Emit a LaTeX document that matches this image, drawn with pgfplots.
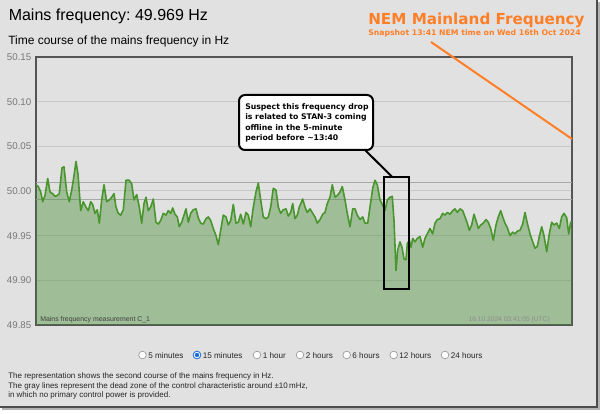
\documentclass[border=0pt]{standalone}
\usepackage{pgfplots}
\pgfplotsset{compat=1.18}
\usepackage{pgfplotstable}
\usepackage{fontspec}
\setmainfont{Liberation Sans}
\newfontfamily\dvb{DejaVu Sans}
\frenchspacing
\definecolor{bggray}{RGB}{225,225,225}
\definecolor{gridgray}{RGB}{200,200,200}
\definecolor{deadgray}{RGB}{168,168,168}
\definecolor{framegray}{RGB}{85,85,85}
\definecolor{tickgray}{RGB}{120,120,120}
\definecolor{fillgreen}{RGB}{70,140,50}
\definecolor{linegreen}{RGB}{72,150,45}
\definecolor{nemorange}{RGB}{255,127,39}
\definecolor{radioblue}{RGB}{30,110,220}

\pgfplotstableread{
x f
36 50.007
38.3 50.005
40.7 49.999
42.7 49.988
45 49.995
47.7 50.014
50 49.999
52.7 49.997
55 49.994
57.3 49.995
59.3 49.997
62 50.026
64 50.027
66.7 49.999
69.3 49.988
71.7 50.001
74 50.017
76 50.033
78 50.019
80.7 49.978
83.3 49.988
86 49.982
88.3 49.978
90.7 49.988
92.7 49.985
95 49.975
97.3 49.979
99.3 49.964
101.7 49.990
104 50.007
106.7 49.988
109.3 49.990
111.7 49.993
114 49.997
116 49.982
118.3 49.975
120.7 49.973
123.3 49.979
126 50.012
129.3 50.012
131.7 50.008
134 49.990
136.7 49.996
139.3 49.982
141.7 49.964
144 49.986
146 49.993
148.3 49.978
150.7 49.982
153.3 49.991
156 49.965
158.3 49.963
160.7 49.967
163.3 49.975
166 49.973
168.3 49.978
170.7 49.975
172.7 49.981
175 49.974
177.3 49.971
179.3 49.960
181.7 49.965
184 49.973
186 49.980
188.3 49.965
190.7 49.975
193.3 49.979
196 49.980
198.3 49.970
200.7 49.964
203.3 49.963
206 49.969
208.3 49.971
210.7 49.967
213.3 49.958
216 49.950
218.3 49.940
220.7 49.956
223.3 49.973
226 49.971
228.3 49.962
230.7 49.967
233.3 49.985
236 49.964
238.3 49.965
240.7 49.974
243.3 49.963
246 49.976
248.3 49.973
250.7 49.960
253.3 49.982
256 49.999
258.3 50.009
260.7 49.990
263.3 49.971
266 49.969
268.3 49.971
270.7 49.982
273.3 50.003
276 50.001
278.3 49.982
280.7 49.975
283.3 49.979
286 49.980
288.3 49.972
290.7 49.976
292.7 49.986
295 49.969
297.3 49.973
299.3 49.982
302.7 49.991
305 49.982
307.3 49.976
310 49.980
312.7 49.975
315 49.971
317.3 49.964
320 49.968
322.7 49.974
325 49.976
327.3 49.986
330 49.993
332.3 50.007
335 49.993
337.3 49.995
340 49.999
342.3 50.005
345 49.990
347.3 49.975
350 49.960
352.7 49.980
355 49.980
357.3 49.973
360 49.968
362.7 49.971
365 49.964
367.7 49.964
370 49.982
372.7 50.003
375 50.012
377.3 50.007
380 49.990
382.7 49.984
385 49.978
387.3 49.990
390 49.993
392.3 49.994
394 49.967
396 49.911
397.7 49.934
400 49.943
402 49.937
404 49.924
406 49.923
407.3 49.941
409.3 49.945
411 49.937
412.7 49.947
415 49.943
417.3 49.947
420 49.949
422.7 49.937
425 49.947
427.7 49.953
430 49.958
432.7 49.952
435 49.964
437.3 49.968
440 49.969
442.7 49.975
445 49.973
447.3 49.976
450 49.974
452.7 49.978
455 49.980
457.3 49.976
460 49.980
462.7 49.978
465 49.971
467.3 49.964
469.3 49.956
471.7 49.962
474 49.974
476 49.967
478.3 49.958
480.7 49.962
483.3 49.964
486 49.968
488.3 49.965
490.7 49.958
493.3 49.945
496 49.962
498.3 49.971
500.7 49.978
502.7 49.971
505 49.964
507.3 49.959
510 49.950
512.7 49.954
515 49.952
517.3 49.955
520 49.956
522.7 49.963
525 49.976
527.3 49.964
530 49.952
532.7 49.943
535 49.936
537.3 49.938
539.3 49.949
541.7 49.960
544 49.950
546.7 49.932
549.3 49.952
551.7 49.965
554 49.962
556.7 49.964
559.3 49.958
561.7 49.971
564 49.975
566.7 49.970
568.7 49.952
570.7 49.965
572 49.966
}\freqdata

\pgfplotstableread{
x f
36 50.01
572 50.01
}\deadhi
\pgfplotstableread{
x f
36 49.99
572 49.99
}\deadlo

\begin{document}
\begin{tikzpicture}
\begin{scope}[x=0.75pt,y=0.75pt]
\useasboundingbox (0,0) rectangle (604,414);
\fill[white] (0,0) rectangle (604,414);
\fill[bggray] (0,7) rectangle (597,414);
\draw[gray!60, line width=1.5pt] (599,412) -- (599,5) -- (2,5);
\draw[black!70, line width=1pt] (597,414) -- (597,7) -- (0,7);
\node[anchor=base west, inner sep=0pt, font=\fontsize{12}{14}\selectfont] at (8.5,393) {Mains frequency: 49.969 Hz};
\node[anchor=base west, inner sep=0pt, font=\fontsize{9}{11}\selectfont] at (8,369) {Time course of the mains frequency in Hz};
\end{scope}

\begin{axis}[
  at={(27pt,66.75pt)}, anchor=south west, scale only axis,
  width=402pt, height=201pt,
  xmin=36, xmax=572, ymin=49.85, ymax=50.15,
  xtick=\empty,
  ytick={49.85,49.9,49.95,50,50.05,50.1,50.15},
  ymajorgrids, grid style={color=gridgray, line width=0.75pt},
  axis background/.style={fill=bggray},
  axis line style={draw=framegray, line width=1.1pt},
  major tick length=0pt,
  yticklabel style={font=\fontsize{7.3}{8}\selectfont, text=tickgray,
    /pgf/number format/.cd, fixed, fixed zerofill, precision=2, assume math mode=true},
  clip=true,
]
\addplot[draw=deadgray, line width=0.8pt, forget plot] table[x=x,y=f] {\deadhi};
\addplot[draw=deadgray, line width=0.8pt, forget plot] table[x=x,y=f] {\deadlo};
\addplot[draw=none, fill=fillgreen, fill opacity=0.42, forget plot] table[x=x,y=f] {\freqdata} \closedcycle;
\addplot[draw=linegreen, line width=1.2pt, line join=round, forget plot] table[x=x,y=f] {\freqdata};
\end{axis}

\begin{scope}[x=0.75pt,y=0.75pt]
\node[anchor=base west, inner sep=0pt, font=\fontsize{5.2}{6}\selectfont, text=black!75] at (40,92) {Mains frequency measurement C\_1};
\node[anchor=base east, inner sep=0pt, font=\fontsize{5}{6}\selectfont, text=black!45] at (550,92) {16.10.2024 03:41:05 (UTC)};

\node[anchor=base west, inner sep=0pt, font=\dvb\bfseries\fontsize{11.4}{13}\selectfont, text=nemorange] at (368,389) {NEM Mainland Frequency};
\node[anchor=base west, inner sep=0pt, font=\dvb\bfseries\fontsize{5.8}{7}\selectfont, text=nemorange] at (368,378.5) {Snapshot 13:41 NEM time on Wed 16th Oct 2024};
\draw[nemorange, line width=1.5pt] (431,372) -- (572,275);

\draw[black, line width=1.5pt] (365,264) -- (392,237.3);
\draw[black, line width=1.5pt, fill=white, rounded corners=4.5] (239,319) rectangle (373,264);
\begin{scope}[every node/.style={anchor=base west, inner sep=0pt, font=\dvb\bfseries\fontsize{5.8}{7}\selectfont}]
\node at (245,304.5) {Suspect this frequency drop};
\node at (245,294) {is related to STAN-3 coming};
\node at (245,283.5) {offline in the 5-minute};
\node at (245,273) {period before \textasciitilde13:40};
\end{scope}
\draw[black, line width=1.5pt] (384.3,237.3) rectangle (409.3,125.3);

\foreach \cx/\lab in {142.5/5 minutes, 197/15 minutes, 257/1 hour, 300/2 hours, 346.7/6 hours, 393.7/12 hours, 445/24 hours}{
  \draw[gray!80, fill=white, line width=0.5pt] (\cx,59) circle (3.8);
  \node[anchor=west, inner sep=0pt, font=\fontsize{6.1}{7}\selectfont, text=black!85] at (\cx+5.5,58.5) {\lab};
}
\draw[radioblue, fill=white, line width=0.6pt] (197,59) circle (3.8);
\fill[radioblue] (197,59) circle (2.2);

\begin{scope}[every node/.style={anchor=base west, inner sep=0pt, font=\fontsize{6}{7}\selectfont, text=black!85}]
\node at (8,35) {The representation shows the second course of the mains frequency in Hz.};
\node at (8,25.5) {The gray lines represent the dead zone of the control characteristic around \textpm10\,mHz,};
\node at (8,16.5) {in which no primary control power is provided.};
\end{scope}
\end{scope}
\end{tikzpicture}
\end{document}
